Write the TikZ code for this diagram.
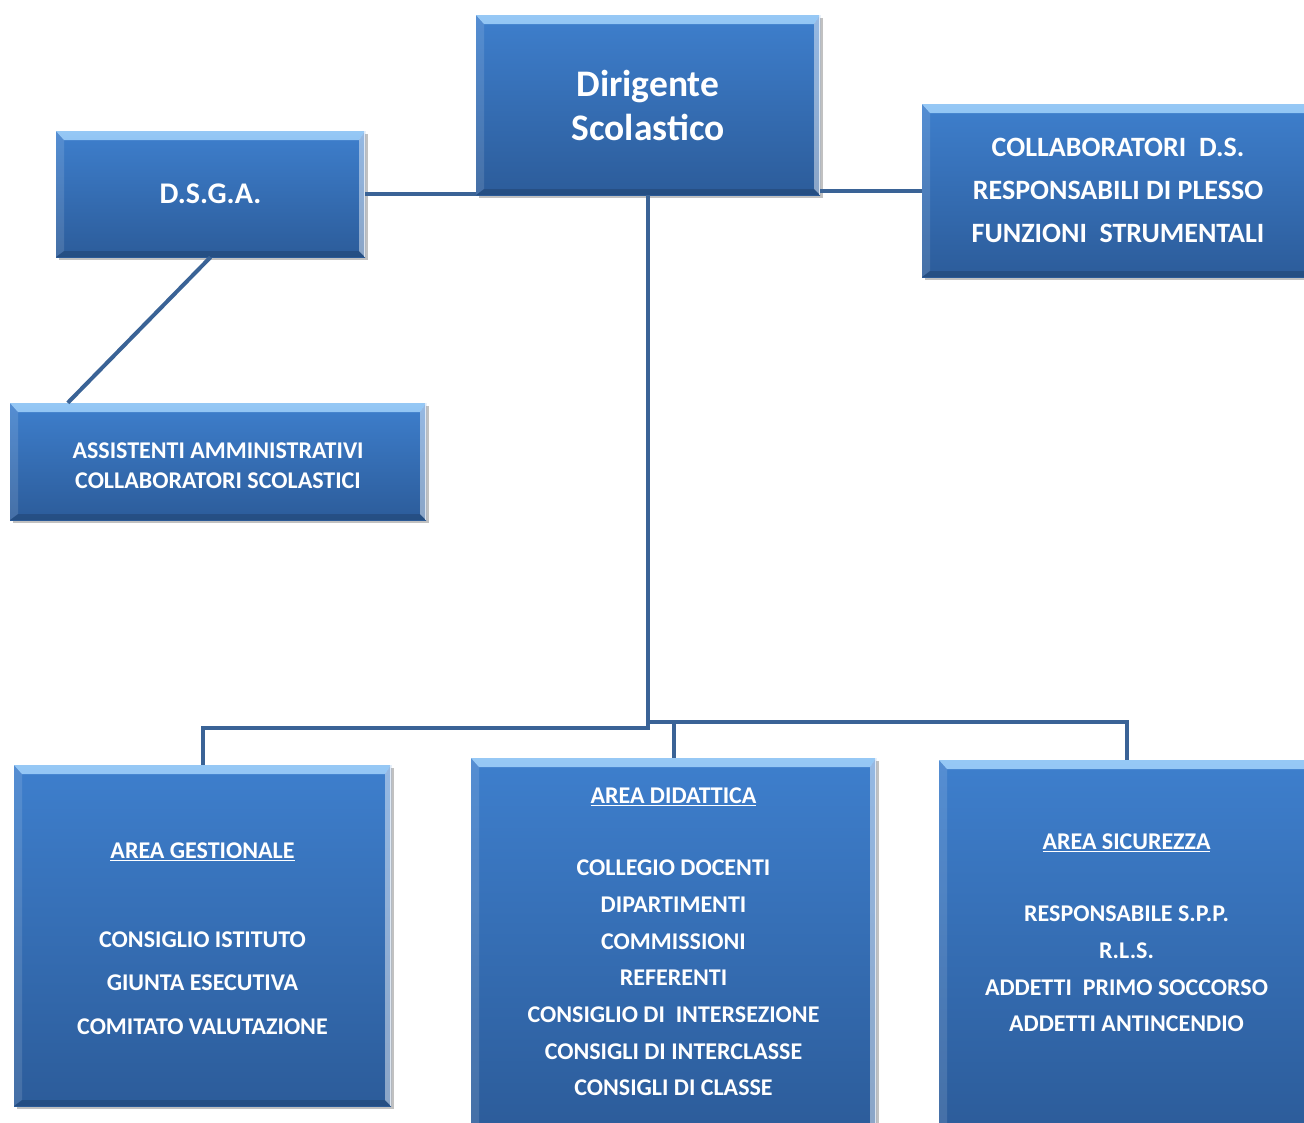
\documentclass[tikz,border=0pt]{standalone}
\usepackage{fontspec}
\setmainfont{Carlito}
\usetikzlibrary{shadows}
\definecolor{boxtop}{RGB}{62,127,205}
\definecolor{boxbot}{RGB}{44,92,154}
\definecolor{bevlight}{RGB}{150,200,245}
\definecolor{bevmid}{RGB}{85,150,225}
\definecolor{linecol}{RGB}{58,99,150}
\tikzset{
  orgbox/.style={rectangle, draw=none, top color=boxtop, bottom color=boxbot,
    text=white, align=center, inner sep=0pt,
    drop shadow={shadow xshift=3pt, shadow yshift=-3pt, opacity=0.35, fill=black!70},
    path picture={
      \shade[top color=bevlight, bottom color=bevmid]
        (path picture bounding box.north west) -- (path picture bounding box.north east)
        -- ([xshift=-6pt,yshift=-9pt]path picture bounding box.north east)
        -- ([xshift=8pt,yshift=-9pt]path picture bounding box.north west) -- cycle;
      \fill[white, opacity=0.12]
        (path picture bounding box.north west)
        -- ([xshift=8pt,yshift=-9pt]path picture bounding box.north west)
        -- ([xshift=8pt,yshift=6pt]path picture bounding box.south west)
        -- (path picture bounding box.south west) -- cycle;
      \fill[white, opacity=0.45]
        (path picture bounding box.north east)
        -- ([xshift=-6pt,yshift=-9pt]path picture bounding box.north east)
        -- ([xshift=-6pt,yshift=6pt]path picture bounding box.south east)
        -- (path picture bounding box.south east) -- cycle;
      \fill[black, opacity=0.15]
        (path picture bounding box.south west)
        -- ([xshift=8pt,yshift=6pt]path picture bounding box.south west)
        -- ([xshift=-6pt,yshift=6pt]path picture bounding box.south east)
        -- (path picture bounding box.south east) -- cycle;
      \draw[white, opacity=0.7, line width=1.2pt]
        ([xshift=-0.6pt]path picture bounding box.north east)
        -- ([xshift=-0.6pt]path picture bounding box.south east);
    }},
  conn/.style={draw=linecol, line width=4pt}
}
\begin{document}
\begin{tikzpicture}[x=1pt,y=-1pt]
\useasboundingbox (0,0) rectangle (1304,1122);
\clip (0,0) rectangle (1304,1122);

\coordinate (busL) at (0,728);
\coordinate (busR) at (0,722);

\node[orgbox, minimum width=344pt, minimum height=180pt,
      font=\fontsize{37.5}{44}\selectfont\bfseries] (ds) at (648,105)
  {Dirigente\\Scolastico};
\node[orgbox, minimum width=309pt, minimum height=126pt,
      font=\fontsize{30}{36}\selectfont\bfseries] (dsga) at (210.5,194) {D.S.G.A.};
\node[orgbox, minimum width=392pt, minimum height=173pt,
      font=\fontsize{28}{43}\selectfont\bfseries] (coll) at (1118,190.5)
  {COLLABORATORI\ \ D.S.\\RESPONSABILI DI PLESSO\\FUNZIONI\ \ STRUMENTALI};
\node[orgbox, minimum width=416pt, minimum height=117pt,
      font=\fontsize{24}{30}\selectfont\bfseries] (ass) at (218,461.5)
  {\mbox{}\\[-6pt]ASSISTENTI AMMINISTRATIVI\\COLLABORATORI SCOLASTICI};
\node[orgbox, minimum width=377pt, minimum height=341pt,
      font=\fontsize{24}{43.5}\selectfont\bfseries] (ges) at (202.5,935.5)
  {\mbox{}\\[-21.5pt]\underline{AREA GESTIONALE}\\[45.5pt]CONSIGLIO ISTITUTO\\GIUNTA ESECUTIVA\\COMITATO VALUTAZIONE};
\node[orgbox, minimum width=405pt, minimum height=372pt,
      font=\fontsize{24}{36.7}\selectfont\bfseries] (did) at (673.5,944)
  {\underline{AREA DIDATTICA}\\[35.3pt]COLLEGIO DOCENTI\\DIPARTIMENTI\\COMMISSIONI\\REFERENTI\\CONSIGLIO DI\ \ INTERSEZIONE\\CONSIGLI DI INTERCLASSE\\CONSIGLI DI CLASSE\\[-32.7pt]\mbox{}};
\node[orgbox, minimum width=375pt, minimum height=370pt,
      font=\fontsize{24}{36.7}\selectfont\bfseries] (sic) at (1126.5,945)
  {\underline{AREA SICUREZZA}\\[35.3pt]RESPONSABILE S.P.P.\\R.L.S.\\ADDETTI\ \ PRIMO SOCCORSO\\ADDETTI ANTINCENDIO\\[-12.7pt]\mbox{}};

\draw[conn] (dsga.east) -- (dsga.east -| ds.west);
\draw[conn] (ds.east |- coll.west) -- (coll.west);
\draw[conn] (dsga.south) -- ([xshift=58pt]ass.north west);
\draw[conn] (ds.south) -- (ds.south |- busL) -| (ges.north);
\draw[conn] (ds.south |- busR) -| (sic.north);
\draw[conn] (did.north |- busR) -- (did.north);
\end{tikzpicture}
\end{document}
